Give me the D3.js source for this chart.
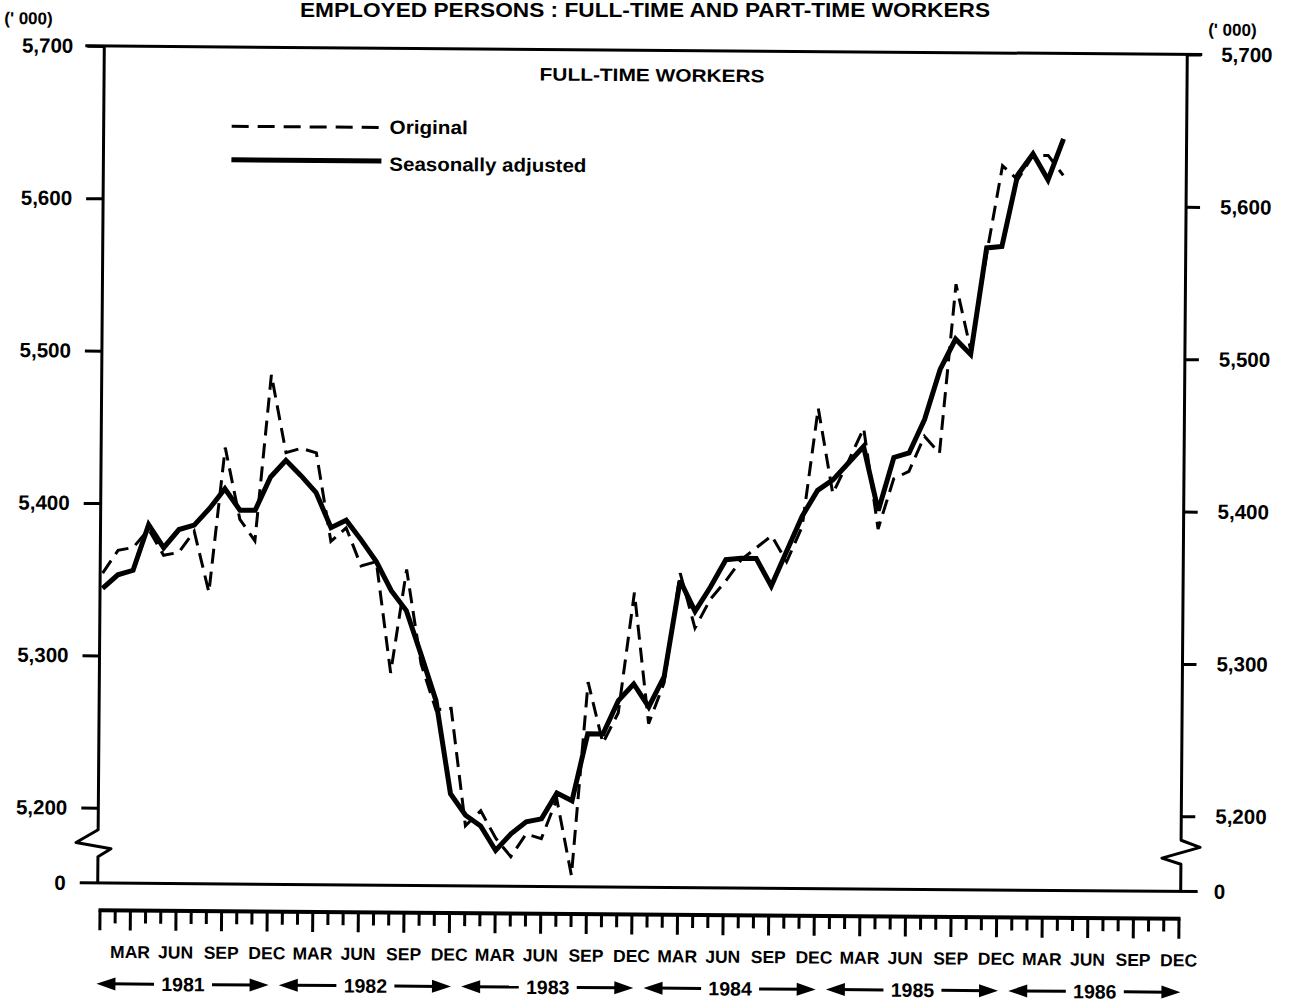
<!DOCTYPE html>
<html><head><meta charset="utf-8">
<script src="https://cdn.jsdelivr.net/npm/d3@7"></script>
<style>
body{margin:0;background:#fff}
svg{display:block}
text{font-family:"Liberation Sans",Arial,Helvetica,sans-serif;fill:#000}
</style>
</head><body>
<svg id="c" width="1289" height="1003"></svg>
<script>
// ---------- data ----------
const years = [1981, 1982, 1983, 1984, 1985, 1986];
const monthNames = ["JAN","FEB","MAR","APR","MAY","JUN","JUL","AUG","SEP","OCT","NOV","DEC"];
const quarterLabels = ["MAR", "JUN", "SEP", "DEC"];
const yTicks = [5200, 5300, 5400, 5500, 5600, 5700];
const yTickLabels = ["5,200", "5,300", "5,400", "5,500", "5,600", "5,700"];
const seriesNames = ["Original", "Seasonally adjusted"];
// monthly, Jan 1981 .. Apr 1986 ('000 persons)
const original = [5354,5369,5371,5383,5366,5368,5382,5342,5437,5390,5376,5485,
                  5434,5437,5434,5376,5385,5360,5363,5290,5358,5296,5266,5267,
                  5190,5200,5182,5170,5185,5182,5208,5158,5285,5245,5265,5344,
                  5258,5285,5357,5321,5340,5352,5366,5374,5382,5365,5388,5466,
                  5410,5431,5453,5387,5420,5425,5448,5437,5548,5505,5568,5626,
                  5617,5633,5633,5620];
const seasonallyAdjusted = [5344,5353,5356,5386,5371,5383,5386,5397,5410,5396,5396,5418,
                  5429,5419,5408,5385,5390,5377,5363,5344,5331,5302,5272,5211,
                  5197,5190,5174,5185,5193,5195,5212,5207,5251,5251,5273,5284,
                  5269,5289,5352,5332,5348,5366,5367,5367,5349,5372,5395,5412,
                  5419,5430,5441,5399,5434,5437,5459,5492,5512,5502,5572,5573,
                  5620,5634,5617,5644];

const periods = years.flatMap(yr => monthNames.map(m => m + " " + yr));

// ---------- layout ----------
const svg = d3.select("#c");
const axL = 101, axR = 1184, topY = 50.2, baseY = 887.2;
const x = d3.scalePoint().domain(periods).range([103.5, 1182.5]);
const y = d3.scaleLinear().domain([5200, 5700]).range([812, topY]);

// title (unrotated)
svg.append("text").attr("x", 645).attr("y", 17).attr("text-anchor", "middle")
  .attr("font-size", 20).attr("font-weight", "bold")
  .attr("textLength", 690).attr("lengthAdjust", "spacingAndGlyphs")
  .text("EMPLOYED PERSONS : FULL-TIME AND PART-TIME WORKERS");

// the scanned page is slightly tilted
const g = svg.append("g").attr("transform", "rotate(0.45 642.5 468.7)");

// units
g.append("text").attr("x", 25).attr("y", 23).attr("dy", "0.35em").attr("text-anchor", "middle")
  .attr("font-size", 17).attr("font-weight", "bold").text("(' 000)");
g.append("text").attr("x", 1229).attr("y", 25).attr("dy", "0.35em").attr("text-anchor", "middle")
  .attr("font-size", 17).attr("font-weight", "bold").text("(' 000)");

// y axes through d3 axis generators
const yAxL = d3.axisLeft(y).tickValues(yTicks).tickFormat((d, i) => yTickLabels[i])
  .tickSize(17).tickPadding(14);
const yAxR = d3.axisRight(y).tickValues(yTicks).tickFormat((d, i) => yTickLabels[i])
  .tickSize(14).tickPadding(20);
const gl = g.append("g").attr("transform", `translate(${axL},0)`).call(yAxL);
const gr = g.append("g").attr("transform", `translate(${axR},0)`).call(yAxR);
[gl, gr].forEach(a => {
  a.select(".domain").remove();
  a.selectAll(".tick line").attr("stroke", "#000").attr("stroke-width", 3);
  a.selectAll(".tick text").attr("font-size", 20.5).attr("font-weight", "bold")
    .attr("font-family", "'Liberation Sans', Arial, sans-serif").attr("fill", "#000");
});

// zero labels
g.append("text").attr("x", 69).attr("y", baseY).attr("dy", "0.35em").attr("text-anchor", "end")
  .attr("font-size", 20.5).attr("font-weight", "bold").text("0");
g.append("text").attr("x", 1217).attr("y", baseY).attr("dy", "0.35em").attr("text-anchor", "start")
  .attr("font-size", 20.5).attr("font-weight", "bold").text("0");

// frame: top line, baseline, axes with scale breaks
const frame = g.append("g").attr("fill", "none").attr("stroke", "#000").attr("stroke-width", 3)
  .attr("stroke-linejoin", "round");
frame.append("path").attr("d", `M82,${topY}H1199`);
frame.append("path").attr("d", `M83,${baseY}H1201`);
frame.append("path").attr("d", `M${axL},${topY}V834L79,847L114,853L${axL},861V${baseY}`);
frame.append("path").attr("d", `M${axR},${topY}V836L1203,843L1165,854L${axR},860V${baseY}`);

// heading inside plot
g.append("text").attr("x", 649).attr("y", 75).attr("dy", "0.35em").attr("text-anchor", "middle")
  .attr("font-size", 18).attr("font-weight", "bold")
  .attr("textLength", 225).attr("lengthAdjust", "spacingAndGlyphs").text("FULL-TIME WORKERS");

// legend
const leg = g.append("g");
leg.append("line").attr("x1", 229).attr("x2", 379).attr("y1", 129.5).attr("y2", 129.5)
  .attr("stroke", "#000").attr("stroke-width", 3).attr("stroke-dasharray", "17,9");
leg.append("line").attr("x1", 229).attr("x2", 379).attr("y1", 163).attr("y2", 163)
  .attr("stroke", "#000").attr("stroke-width", 5);
leg.append("text").attr("x", 387).attr("y", 129).attr("dy", "0.35em").attr("font-size", 19)
  .attr("font-weight", "bold").attr("textLength", 78).attr("lengthAdjust", "spacingAndGlyphs")
  .text(seriesNames[0]);
leg.append("text").attr("x", 387).attr("y", 166).attr("dy", "0.35em").attr("font-size", 19)
  .attr("font-weight", "bold").attr("textLength", 197).attr("lengthAdjust", "spacingAndGlyphs")
  .text(seriesNames[1]);

// series
const line = d3.line().x((d, i) => x(periods[i])).y(d => y(d));
g.append("path").datum(original).attr("d", line).attr("fill", "none").attr("stroke", "#000")
  .attr("stroke-width", 3).attr("stroke-dasharray", "15,8").attr("stroke-linejoin", "miter");
g.append("path").datum(seasonallyAdjusted).attr("d", line).attr("fill", "none").attr("stroke", "#000")
  .attr("stroke-width", 5).attr("stroke-linejoin", "miter").attr("stroke-miterlimit", 3);

// month ruler
const rulerY = 914.5;
const ruler = g.append("g");
ruler.append("line").attr("x1", x(periods[0]) - 1.5).attr("x2", x(periods[periods.length - 1]) + 1.5)
  .attr("y1", rulerY).attr("y2", rulerY).attr("stroke", "#000").attr("stroke-width", 4);
ruler.selectAll("line.tk").data(periods).join("line").attr("class", "tk")
  .attr("x1", d => x(d)).attr("x2", d => x(d)).attr("y1", rulerY)
  .attr("y2", (d, i) => rulerY + ((i % 3 === 2 || i === 0) ? 20 : 13))
  .attr("stroke", "#000").attr("stroke-width", 3);
const qPeriods = periods.filter(p => quarterLabels.includes(p.slice(0, 3)));
ruler.selectAll("text.q").data(qPeriods).join("text").attr("class", "q")
  .attr("x", d => x(d)).attr("y", 956).attr("dy", "0.35em").attr("text-anchor", "middle")
  .attr("font-size", 17.5).attr("font-weight", "bold").text(d => d.slice(0, 3));

// year arrows
const yr = ruler.selectAll("g.yr").data(years).join("g").attr("class", "yr");
yr.each(function (yv, k) {
  const s = d3.select(this);
  const x0 = x(periods[12 * k]) - 3, x1 = x(periods[12 * k + 11]) + 2;
  const cx = (x(periods[12 * k + 5]) + x(periods[12 * k + 6])) / 2;
  const yy = 988;
  s.append("text").attr("x", cx).attr("y", yy).attr("dy", "0.35em").attr("text-anchor", "middle")
    .attr("font-size", 19.5).attr("font-weight", "bold").text(yv);
  s.append("line").attr("x1", x0 + 12).attr("x2", cx - 29).attr("y1", yy).attr("y2", yy)
    .attr("stroke", "#000").attr("stroke-width", 3);
  s.append("line").attr("x1", cx + 29).attr("x2", x1 - 12).attr("y1", yy).attr("y2", yy)
    .attr("stroke", "#000").attr("stroke-width", 3);
  s.append("path").attr("d", `M${x0},${yy}L${x0 + 19},${yy - 6.5}L${x0 + 19},${yy + 6.5}Z`);
  s.append("path").attr("d", `M${x1},${yy}L${x1 - 19},${yy - 6.5}L${x1 - 19},${yy + 6.5}Z`);
});
</script>
</body></html>
